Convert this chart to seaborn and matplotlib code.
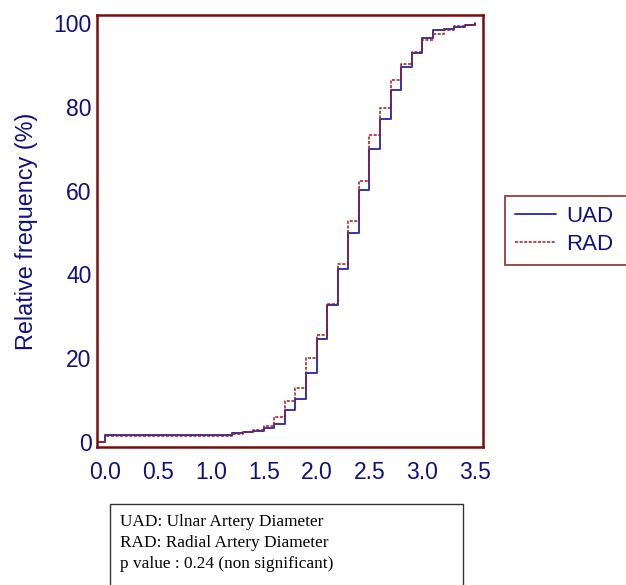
import numpy as np
import pandas as pd
import matplotlib
matplotlib.use("Agg")
import matplotlib.pyplot as plt
from matplotlib.patches import Rectangle
import seaborn as sns

# diameter (mm) where each step starts, -0.1 is the baseline before the first value
diameter = [-0.1, 0.0, 1.2, 1.3, 1.4, 1.5, 1.6, 1.7, 1.8, 1.9, 2.0, 2.1, 2.2,
            2.3, 2.4, 2.5, 2.6, 2.7, 2.8, 2.9, 3.0, 3.1, 3.2, 3.3, 3.4, 3.5]
# cumulative relative frequency (%)
uad = [0, 1.7, 2.1, 2.4, 2.7, 3.3, 4.3, 7.6, 10.2, 16.5, 24.5, 32.7, 41.4,
       50.0, 60.1, 69.9, 77.0, 84.0, 89.5, 92.9, 96.5, 98.3, 98.6, 99.1, 99.5, 100]
rad = [0, 1.4, 1.9, 2.3, 2.9, 3.9, 6.0, 9.8, 12.8, 20.1, 25.6, 32.9, 42.6,
       52.8, 62.4, 73.2, 79.7, 86.4, 90.3, 93.2, 95.9, 97.3, 98.4, 99.3, 99.6, 100]

x_ticks = [0.0, 0.5, 1.0, 1.5, 2.0, 2.5, 3.0, 3.5]
y_ticks = [0, 20, 40, 60, 80, 100]
notes = ["UAD: Ulnar Artery Diameter",
         "RAD: Radial Artery Diameter",
         "p value : 0.24 (non significant)"]

frame = "#7a0c0c"
navy = "#0f0f80"

sns.set_style("white")
plt.rcParams["font.family"] = ["Liberation Sans", "DejaVu Sans"]

df = pd.DataFrame({"diameter": diameter, "UAD": uad, "RAD": rad})

fig = plt.figure(figsize=(6.26, 5.85), dpi=100)
ax = fig.add_axes([0.155, 0.236, 0.617, 0.738])

sns.lineplot(data=df, x="diameter", y="UAD", ax=ax, color="#3535a8",
             linewidth=1.4, drawstyle="steps-post", label="UAD")
sns.lineplot(data=df, x="diameter", y="RAD", ax=ax, color="#a01818",
             linewidth=1.1, linestyle=(0, (2, 1)), drawstyle="steps-post", label="RAD")

ax.set_xlim(-0.076, 3.576)
ax.set_ylim(-1.2, 101.9)
ax.set_xticks(x_ticks)
ax.set_xticklabels([f"{v:.1f}" for v in x_ticks])
ax.set_yticks(y_ticks)
ax.set_yticks(np.arange(0, 101, 5), minor=True)
ax.tick_params(axis="both", which="major", direction="in", length=7, width=1.8,
               color=frame, labelcolor=navy, labelsize=16.5)
ax.tick_params(axis="x", which="major", pad=10)
ax.tick_params(axis="y", which="major", pad=4)
ax.tick_params(axis="y", which="minor", direction="in", length=4, width=1.2, color=frame)
ax.set_xlabel("")
ax.set_ylabel("Relative frequency (%)", color=navy, fontsize=16.8, labelpad=11)
for s in ax.spines.values():
    s.set_color(frame)
    s.set_linewidth(1.8)

ax.get_legend().remove()
leg = fig.legend(loc="upper left", bbox_to_anchor=(0.807, 0.545, 0.25, 0.12),
                 mode="expand", fontsize=16, frameon=True, fancybox=False,
                 handlelength=1.85, handletextpad=0.45, labelspacing=0.3,
                 borderpad=0.45, borderaxespad=0)
leg.get_frame().set_edgecolor(frame)
leg.get_frame().set_linewidth(1.3)
for t in leg.get_texts():
    t.set_color(navy)

fig.patches.append(Rectangle((0.176, -0.02), 0.564, 0.1585, transform=fig.transFigure,
                             fill=False, edgecolor="#333333", linewidth=1.0))
for i, line in enumerate(notes):
    fig.text(0.192, 0.108 - i * 0.0359, line, family="Liberation Serif",
             fontsize=12.4, color="black", va="center", ha="left")

fig.savefig("out.png", dpi=100)
